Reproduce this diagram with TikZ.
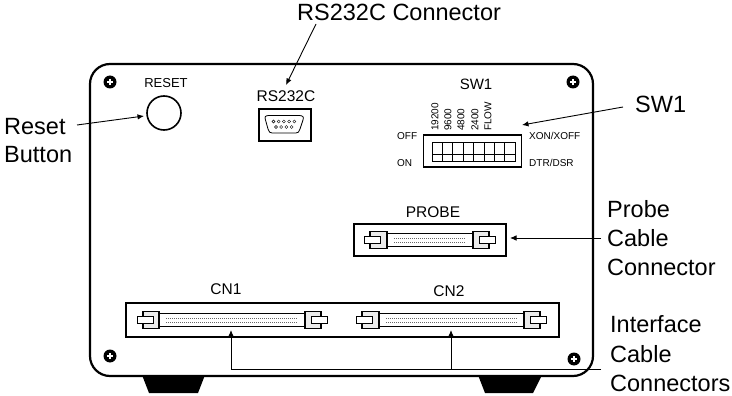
\documentclass[tikz,border=0pt]{standalone}
\usepackage{fontspec}
\setmainfont{Liberation Sans}
\newcommand{\szt}[1]{\fontsize{#1}{#1}\selectfont}
\usetikzlibrary{arrows.meta}
\tikzset{
  panel/.style={draw=black,line width=2.2pt,fill=white},
  thickbox/.style={draw=black,line width=1.9pt,fill=white},
  lab/.style={inner sep=0pt,font=\szt{23.5}},
  seclab/.style={inner sep=0pt,font=\szt{13}},
  conlab/.style={inner sep=0pt,font=\szt{15.5}},
  tiny/.style={inner sep=0pt,font=\szt{10}},
  conn/.style={draw=black,line width=1pt,fill=white},
  brack/.style={draw=black,line width=1.1pt,fill=black!8},
  tab/.style={draw=black,line width=0.8pt,fill=white},
  pins/.style={line width=0.5pt,black!60,dash pattern=on 1pt off 1pt},
  pointer/.style={draw=black,line width=0.9pt,-{Latex[length=6.5pt,width=5.5pt]}},
}
\newcommand{\hole}[2]{\fill[black] (#1,#2) circle[radius=6.5];
  \draw[white,line width=1.1pt] (#1-3,#2) -- (#1+3,#2) (#1,#2-3) -- (#1,#2+3);}
\newcommand{\cabconn}[5]{%
  \def\ym{#5}%
  \draw[conn] (#2,\ym-6.5) rectangle (#3,\ym+6.5);
  \draw[pins] (#2+7,\ym-2) -- (#3-7,\ym-2);
  \draw[pins] (#2+7,\ym+2) -- (#3-7,\ym+2);
  \draw[brack] (#1,\ym-8.5) rectangle (#2,\ym+8.5);
  \draw[brack] (#3,\ym-8.5) rectangle (#4,\ym+8.5);
  \draw[tab] (#1-6,\ym-3.5) rectangle (#1+10,\ym+3.5);
  \draw[tab] (#4-10,\ym-3.5) rectangle (#4+6,\ym+3.5);}
\begin{document}
\begin{tikzpicture}[x=1pt,y=-1pt]
\useasboundingbox (0,0) rectangle (732,396);
% feet
\fill[black] (142,375) -- (205,375) -- (198,393) -- (149,393) -- cycle;
\fill[black] (478,375) -- (542,375) -- (533,393) -- (485,393) -- cycle;
% panel
\draw[panel,rounded corners=20pt] (90,64) rectangle (593,376);
\hole{110}{82}\hole{573}{82}\hole{110}{356}\hole{574}{359}
% reset
\node[seclab] (resetlab) at (166,83) {RESET};
\node[draw=black,line width=1.6pt,circle,minimum size=34pt,inner sep=0pt] (resetbtn) at (164,113) {};
% RS232C
\node[inner sep=0pt,font=\szt{15.5}] (rslab) at (286,96) {RS232C};
\node[thickbox,minimum width=52pt,minimum height=32pt,inner sep=0pt] (rsbox) at (285,125) {};
\draw[line width=0.8pt] (269,115.5) -- (299,115.5) .. controls (303,115.5) and (304,117) .. (303,120)
  -- (300,129) .. controls (299,132) and (298,133) .. (296,133) -- (272,133)
  .. controls (270,133) and (269,132) .. (268,129) -- (265.5,120) .. controls (264.5,117) and (265,115.5) .. (269,115.5) -- cycle;
\foreach \i in {0,...,4} \draw[line width=0.4pt] (273.5+\i*5.2,121.5) circle[radius=1.5];
\foreach \i in {0,...,3} \draw[line width=0.4pt] (276+\i*5.2,127) circle[radius=1.5];
% SW1
\node[inner sep=0pt,font=\szt{15}] (swlab) at (476,84) {SW1};
\foreach \t/\x in {19200/435,9600/448,4800/461,2400/475,FLOW/488}
  \node[tiny,rotate=90,anchor=west] (r\t) at (\x,131) {\t};
\node[tiny,anchor=west] (offl) at (397,136) {OFF};
\node[tiny,anchor=west] (onl) at (397,163) {ON};
\node[tiny,anchor=west] (xon) at (529,136) {XON/XOFF};
\node[tiny,anchor=west] (dtr) at (529,163) {DTR/DSR};
\node[thickbox,minimum width=98pt,minimum height=32pt,inner sep=0pt] (swbox) at (472.5,151) {};
\foreach \i in {0,...,7} {
  \draw[line width=0.9pt] (432+\i*10.4,142) rectangle (442.4+\i*10.4,161);
  \draw[line width=0.9pt] (432+\i*10.4,154) -- (442.4+\i*10.4,154);
}
% probe
\node[conlab] (problab) at (433,212) {PROBE};
\node[thickbox,minimum width=152pt,minimum height=32pt,inner sep=0pt] (probox) at (430,240) {};
\cabconn{370}{387}{473}{489}{240}
% CN
\node[conlab] (cn1lab) at (226,289) {CN1};
\node[conlab] (cn2lab) at (449,291) {CN2};
\node[thickbox,minimum width=433pt,minimum height=34pt,inner sep=0pt] (cnbox) at (342.5,320) {};
\cabconn{143}{159}{305}{321}{320}
\cabconn{362}{379}{524}{540}{320}
% external labels
\node[lab,anchor=west] (tconn) at (297,12) {RS232C Connector};
\node[lab,align=left,anchor=west] (treset) at (4,141) {Reset\\[4.5pt]Button};
\node[lab,anchor=west] (tsw) at (635,104) {SW1};
\node[lab,align=left,anchor=west] (tprobe) at (607,238) {Probe\\[5.5pt]Cable\\[5.5pt]Connector};
\node[lab,align=left,anchor=west] (tif) at (610,354) {Interface\\[6pt]Cable\\[6pt]Connectors};
% pointers
\coordinate (a1s) at (316,24); \coordinate (a1e) at (286,85);
\coordinate (a2s) at (77,125); \coordinate (a2e) at (144,116);
\coordinate (a3s) at (623,107); \coordinate (a3e) at (522,125);
\coordinate (a4s) at (601,238); \coordinate (a4e) at (510,238);
\coordinate (a5s) at (601,369); \coordinate (a5m) at (231,369); \coordinate (a5e) at (231,330);
\coordinate (a6s) at (451,369); \coordinate (a6e) at (451,330);
\draw[pointer] (a1s) -- (a1e);
\draw[pointer] (a2s) -- (a2e);
\draw[pointer] (a3s) -- (a3e);
\draw[pointer] (a4s) -- (a4e);
\draw[pointer] (a5s) -- (a5m) -- (a5e);
\draw[pointer] (a6s) -- (a6e);
\end{tikzpicture}
\end{document}
